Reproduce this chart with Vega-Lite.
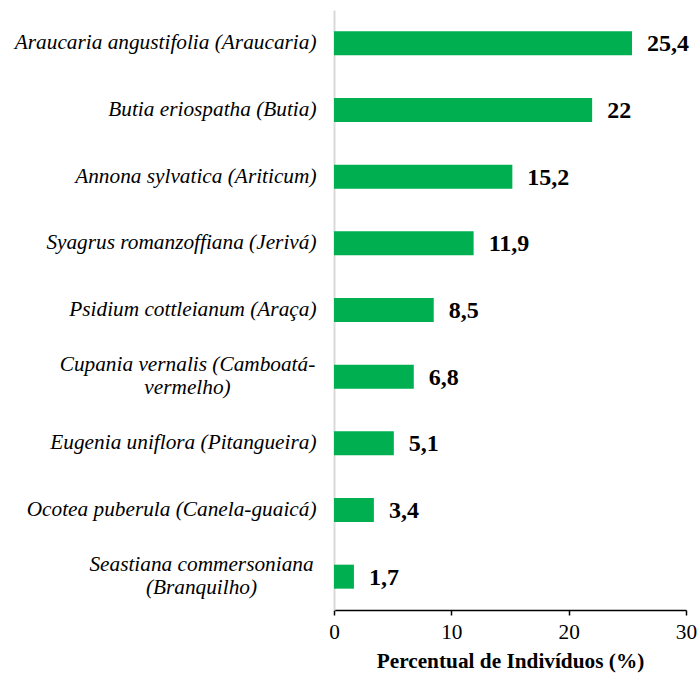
{
  "$schema": "https://vega.github.io/schema/vega-lite/v6.json",
  "width": 352,
  "height": 600,
  "autosize": "none",
  "padding": {"left": 334, "top": 10, "right": 13, "bottom": 63},
  "background": "white",
  "config": {"view": {"stroke": null}},
  "data": {"values": [
    {"especie": "Araucaria angustifolia (Araucaria)", "pct": 25.4, "rotulo": "25,4"},
    {"especie": "Butia eriospatha (Butia)", "pct": 22, "rotulo": "22"},
    {"especie": "Annona sylvatica (Ariticum)", "pct": 15.2, "rotulo": "15,2"},
    {"especie": "Syagrus romanzoffiana (Jerivá)", "pct": 11.9, "rotulo": "11,9"},
    {"especie": "Psidium cottleianum (Araça)", "pct": 8.5, "rotulo": "8,5"},
    {"especie": "Cupania vernalis (Camboatá-vermelho)", "pct": 6.8, "rotulo": "6,8"},
    {"especie": "Eugenia uniflora (Pitangueira)", "pct": 5.1, "rotulo": "5,1"},
    {"especie": "Ocotea puberula (Canela-guaicá)", "pct": 3.4, "rotulo": "3,4"},
    {"especie": "Seastiana commersoniana (Branquilho)", "pct": 1.7, "rotulo": "1,7"}
  ]},
  "encoding": {
    "y": {
      "field": "especie",
      "type": "nominal",
      "sort": null,
      "scale": {"paddingInner": 0.64, "paddingOuter": 0.32},
      "axis": {
        "title": null,
        "domainColor": "#d9d9d9",
        "domainWidth": 2,
        "ticks": false,
        "labelFont": "Liberation Serif",
        "labelFontStyle": "italic",
        "labelFontSize": 21.3,
        "labelColor": "black",
        "labelLimit": 400,
        "labelLineHeight": 23,
        "labelBaseline": "middle",
        "labelAlign": {"condition": {"test": "indexof(datum.value, 'Cupania') >= 0 || indexof(datum.value, 'Seastiana') >= 0", "value": "center"}, "value": "right"},
        "labelPadding": {"condition": [
          {"test": "indexof(datum.value, 'Cupania') >= 0", "value": 147},
          {"test": "indexof(datum.value, 'Seastiana') >= 0", "value": 133}
        ], "value": 18},
        "labelOffset": {"condition": {"test": "indexof(datum.value, 'Cupania') >= 0 || indexof(datum.value, 'Seastiana') >= 0", "value": -11.5}, "value": 0},
        "labelExpr": "datum.value == 'Cupania vernalis (Camboatá-vermelho)' ? ['Cupania vernalis (Camboatá-', 'vermelho)'] : datum.value == 'Seastiana commersoniana (Branquilho)' ? ['Seastiana commersoniana', '(Branquilho)'] : datum.value"
      }
    },
    "x": {
      "field": "pct",
      "type": "quantitative",
      "scale": {"domain": [0, 30], "nice": false},
      "axis": {
        "values": [0, 10, 20, 30],
        "grid": false,
        "domainColor": "black",
        "domainWidth": 1.5,
        "tickColor": "black",
        "tickWidth": 1.5,
        "tickSize": 5,
        "labelFont": "Liberation Serif",
        "labelFontSize": 21.3,
        "labelColor": "black",
        "labelPadding": 6,
        "labelFlush": false,
        "title": "Percentual de Indivíduos (%)",
        "titleFont": "Liberation Serif",
        "titleFontSize": 21.3,
        "titleFontWeight": "bold",
        "titleColor": "black",
        "titlePadding": 8
      }
    }
  },
  "layer": [
    {"mark": {"type": "bar", "color": "#00B050"}},
    {"mark": {"type": "text", "align": "left", "baseline": "middle", "dx": 15, "dy": 1, "font": "Liberation Serif", "fontSize": 24, "fontWeight": "bold", "color": "black"},
     "encoding": {"text": {"field": "rotulo"}}}
  ]
}
